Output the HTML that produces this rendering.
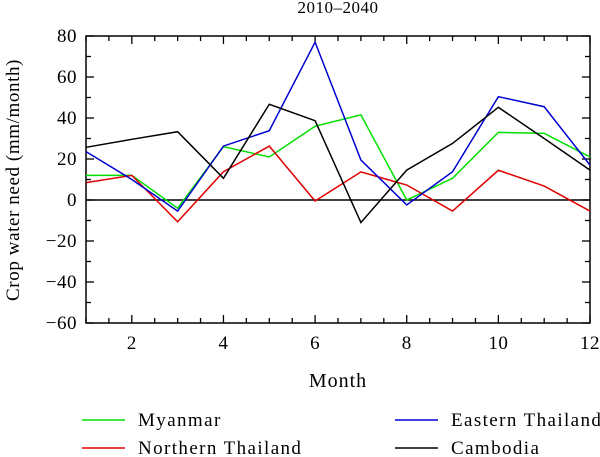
<!DOCTYPE html>
<html><head><meta charset="utf-8"><style>
html,body{margin:0;padding:0;background:#fff;}
svg{display:block;font-family:"Liberation Serif",serif;}
</style></head><body>
<svg id="chart" width="600" height="457" viewBox="0 0 600 457"></svg>
<script>
const months=[1,2,3,4,5,6,7,8,9,10,11,12];
const xTicks=[2,4,6,8,10,12];
const yTicks=[-60,-40,-20,0,20,40,60,80];
const myanmar=[12,12,-4,26,21,36,41.5,0,10.6,33,32.5,21];
const eastern=[23.6,10,-5.4,26.3,33.8,77,19.5,-2.4,13.8,50.4,45.5,17];
const northern=[8.5,12,-10.6,13.8,26.3,-0.5,13.7,7.3,-5.4,14.5,6.8,-5.4];
const cambodia=[25.7,29.6,33.3,10.6,46.7,38.7,-11,14.6,27.6,45.2,30,14.6];
const seriesNames=["Myanmar","Northern Thailand","Eastern Thailand","Cambodia"];

const NS="http://www.w3.org/2000/svg";
const svg=document.getElementById('chart');
const L=86,R=590,T=36,B=323;
const xS=v=>L+(v-1)/11*(R-L);
const yS=v=>T+(80-v)/140*(B-T);
function mk(tag,attrs,parent){const e=document.createElementNS(NS,tag);for(const k in attrs)e.setAttribute(k,attrs[k]);(parent||svg).appendChild(e);return e;}

const title=mk('text',{x:338,y:13,'text-anchor':'middle','font-size':17,'letter-spacing':0.5});


title.textContent='2010–2040';

const frame=mk('rect',{x:L,y:T,width:R-L,height:B-T,fill:'none',stroke:'#000','stroke-width':1.5});



for(let m=1;m<=12;m+=0.5){
  const x=xS(m);const major=(m%2===0);const len=(major?8:5);
  mk('line',{x1:x,x2:x,y1:B,y2:B-len,stroke:'#000','stroke-width':1.3});
  mk('line',{x1:x,x2:x,y1:T,y2:T+len,stroke:'#000','stroke-width':1.3});
}
for(let v=-60;v<=80;v+=10){
  const y=yS(v);const len=(v%20===0)?8:5;
  mk('line',{x1:L,x2:L+len,y1:y,y2:y,stroke:'#000','stroke-width':1.3});
  mk('line',{x1:R,x2:R-len,y1:y,y2:y,stroke:'#000','stroke-width':1.3});
}
xTicks.forEach(t=>{
  const e=mk('text',{x:xS(t),y:B+26,'text-anchor':'middle','font-size':19,'letter-spacing':0.5});
  
  
  e.textContent=t;
});
yTicks.forEach(t=>{
  const e=mk('text',{x:L-9,y:yS(t)+6,'text-anchor':'end','font-size':19,'letter-spacing':0.5});
  
  
  e.textContent=t<0?'−'+(-t):t;
});
const xt=mk('text',{x:338,y:387,'text-anchor':'middle','font-size':20,'letter-spacing':1});


xt.textContent='Month';
const yt=mk('text',{x:0,y:0,'text-anchor':'middle','font-size':19,'letter-spacing':0.6,transform:'translate(19,180) rotate(-90)'});


yt.textContent='Crop water need (mm/month)';

const zl=mk('line',{x1:L,x2:R,y1:yS(0),y2:yS(0),stroke:'#000','stroke-width':1.5});



const series=[[myanmar,'#00e000','myanmar-line'],[northern,'#e00000','northern-thailand-line'],[eastern,'#0000d0','eastern-thailand-line'],[cambodia,'#000','cambodia-line']];
series.forEach(s=>{
  const p=mk('polyline',{points:s[0].map((v,i)=>xS(months[i])+','+yS(v)).join(' '),fill:'none',stroke:s[1],'stroke-width':1.5});
  
  
});

const leg=[[82,420,'#00e000',0],[82,448,'#e00000',1],[395,420,'#0000d0',2],[395,448,'#000',3]];
leg.forEach(l=>{
  const g=mk('g',{});
  
  
  mk('line',{x1:l[0],x2:l[0]+43,y1:l[1],y2:l[1],stroke:l[2],'stroke-width':1.5},g);
  const t=mk('text',{x:l[0]+56,y:l[1]+6,'font-size':19,'letter-spacing':1.4},g);
  t.textContent=seriesNames[l[3]];
});
</script>
</body></html>
